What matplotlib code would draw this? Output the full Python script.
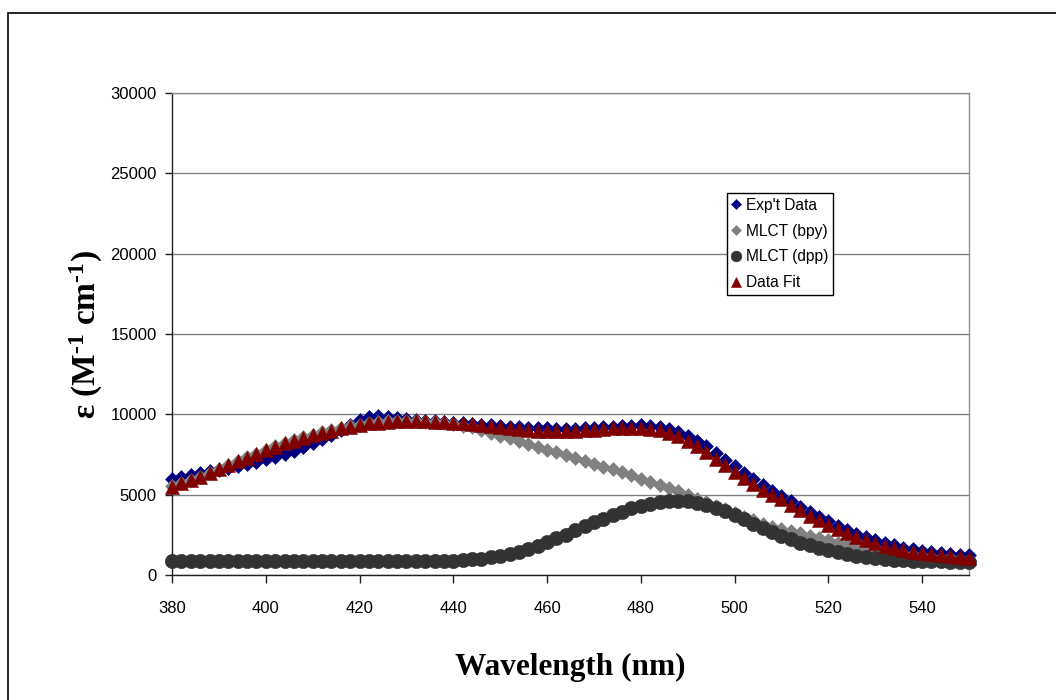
import matplotlib
matplotlib.use("Agg")
import matplotlib.pyplot as plt
from matplotlib.patches import Rectangle

wavelength = list(range(380, 551, 2))

exp_data = [6000, 6120, 6230, 6340, 6450, 6560, 6680, 6800, 6930, 7060,
            7200, 7360, 7540, 7740, 7960, 8200, 8460, 8740, 9040, 9340,
            9620, 9830, 9900, 9860, 9790, 9720, 9660, 9610, 9560, 9520,
            9480, 9440, 9400, 9360, 9320, 9280, 9240, 9200, 9170, 9140,
            9120, 9100, 9100, 9110, 9130, 9160, 9190, 9230, 9270, 9300,
            9310, 9280, 9200, 9080, 8900, 8650, 8350, 8000, 7600, 7180,
            6760, 6350, 5960, 5590, 5240, 4920, 4580, 4250, 3930, 3620,
            3330, 3060, 2800, 2570, 2350, 2160, 1990, 1840, 1710, 1600,
            1500, 1420, 1350, 1300, 1260, 1220]

data_fit = [5500, 5700, 5900, 6100, 6350, 6600, 6850, 7080, 7310, 7540,
            7770, 7990, 8190, 8370, 8540, 8700, 8850, 8990, 9120, 9240,
            9340, 9430, 9490, 9540, 9570, 9580, 9580, 9570, 9550, 9520,
            9480, 9430, 9380, 9320, 9260, 9200, 9140, 9080, 9030, 8990,
            8960, 8950, 8950, 8970, 9000, 9040, 9080, 9120, 9150, 9160,
            9150, 9100, 9000, 8850, 8630, 8350, 8020, 7650, 7250, 6830,
            6420, 6020, 5640, 5280, 4950, 4700, 4350, 4020, 3700, 3400,
            3120, 2850, 2600, 2380, 2170, 1990, 1830, 1690, 1570, 1460,
            1370, 1290, 1220, 1160, 1110, 1060]

mlct_bpy = [5520, 5720, 5920, 6120, 6370, 6620, 6870, 7100, 7330, 7560,
            7790, 8010, 8210, 8390, 8560, 8720, 8870, 9010, 9140, 9260,
            9360, 9450, 9510, 9560, 9580, 9580, 9570, 9540, 9500, 9450,
            9380, 9300, 9200, 9030, 8850, 8680, 8500, 8330, 8150, 7980,
            7800, 7630, 7450, 7280, 7100, 6930, 6750, 6580, 6400, 6200,
            6000, 5800, 5600, 5400, 5200, 4980, 4750, 4530, 4300, 4080,
            3850, 3620, 3400, 3200, 3000, 2870, 2750, 2600, 2450, 2300,
            2150, 2000, 1860, 1730, 1610, 1510, 1430, 1360, 1290, 1230,
            1170, 1120, 1070, 1030, 990, 950]

mlct_dpp = [880, 880, 880, 880, 875, 875, 875, 875, 875, 875,
            875, 875, 875, 875, 875, 875, 875, 875, 875, 875,
            875, 875, 875, 875, 875, 875, 880, 885, 890, 895,
            900, 930, 970, 1020, 1090, 1180, 1300, 1450, 1630, 1830,
            2050, 2280, 2520, 2770, 3020, 3270, 3510, 3740, 3950, 4140,
            4300, 4440, 4540, 4600, 4620, 4590, 4500, 4360, 4180, 3960,
            3720, 3460, 3190, 2920, 2650, 2420, 2220, 2020, 1840, 1680,
            1540, 1410, 1300, 1200, 1120, 1060, 1010, 960, 930, 900,
            880, 860, 850, 840, 840, 830]

x_ticks = [380, 400, 420, 440, 460, 480, 500, 520, 540]
y_ticks = [0, 5000, 10000, 15000, 20000, 25000, 30000]

plt.rcParams['font.family'] = ['Liberation Sans', 'DejaVu Sans']
plt.rcParams['mathtext.fontset'] = 'custom'
plt.rcParams['mathtext.rm'] = 'Liberation Serif:bold'
plt.rcParams['mathtext.it'] = 'Liberation Serif:bold'
plt.rcParams['mathtext.bf'] = 'Liberation Serif:bold'

fig = plt.figure(figsize=(10.56, 7.0), dpi=100)
ax = fig.add_axes([172/1056, 1-575/700, (969-172)/1056, (575-93)/700])

# outer chart frame
fig.patches.append(Rectangle((8/1056, -0.05), 1.1, 1-13/700+0.05,
                             transform=fig.transFigure, fill=False,
                             edgecolor='black', linewidth=1.2))

ax.plot(wavelength, exp_data, linestyle='none', marker='D', markersize=7.3,
        color='#000080', mec='#000080', mew=0.4, label="Exp't Data", clip_on=False, zorder=3)
ax.plot(wavelength, mlct_bpy, linestyle='none', marker='D', markersize=7.3,
        color='#808080', mec='#808080', mew=0.4, label="MLCT (bpy)", clip_on=False, zorder=4)
ax.plot(wavelength, mlct_dpp, linestyle='none', marker='o', markersize=10.3,
        color='#333333', mec='#333333', mew=0.4, label="MLCT (dpp)", clip_on=False, zorder=5)
ax.plot(wavelength, data_fit, linestyle='none', marker='^', markersize=9.8,
        color='#800000', mec='#800000', mew=0.4, label="Data Fit", clip_on=False, zorder=6)

ax.set_xlim(380, 550)
ax.set_ylim(0, 30000)
ax.set_xticks(x_ticks)
ax.set_yticks(y_ticks)
ax.yaxis.grid(True, color='#808080', linewidth=1.0)
ax.set_axisbelow(True)
for s in ['left', 'bottom']:
    ax.spines[s].set_color('#202020')
    ax.spines[s].set_linewidth(1.0)
for s in ['top', 'right']:
    ax.spines[s].set_color('#909090')
    ax.spines[s].set_linewidth(1.0)
ax.tick_params(axis='x', direction='out', length=6, width=1, color='#202020',
               labelsize=12, pad=13)
ax.tick_params(axis='y', direction='out', length=5, width=1, color='#202020',
               labelsize=12, pad=6)

ax.set_xlabel('Wavelength (nm)', family='Liberation Serif', fontweight='bold',
              fontsize=22.5, labelpad=26)
ax.set_ylabel(r'ε (M$^{\text{-1}}$ cm$^{\text{-1}}$)', family='Liberation Serif',
              fontweight='bold', fontsize=24, labelpad=4)

leg = ax.legend(loc='upper left', bbox_to_anchor=(727/1056, 1-193/700),
                bbox_transform=fig.transFigure, fontsize=11.2, frameon=True,
                fancybox=False, edgecolor='black', framealpha=1,
                handlelength=0.6, handletextpad=0.3, borderpad=0.3,
                labelspacing=0.7, borderaxespad=0, markerscale=0.75)
leg.get_frame().set_linewidth(1.0)

fig.savefig('out.png', dpi=100)
